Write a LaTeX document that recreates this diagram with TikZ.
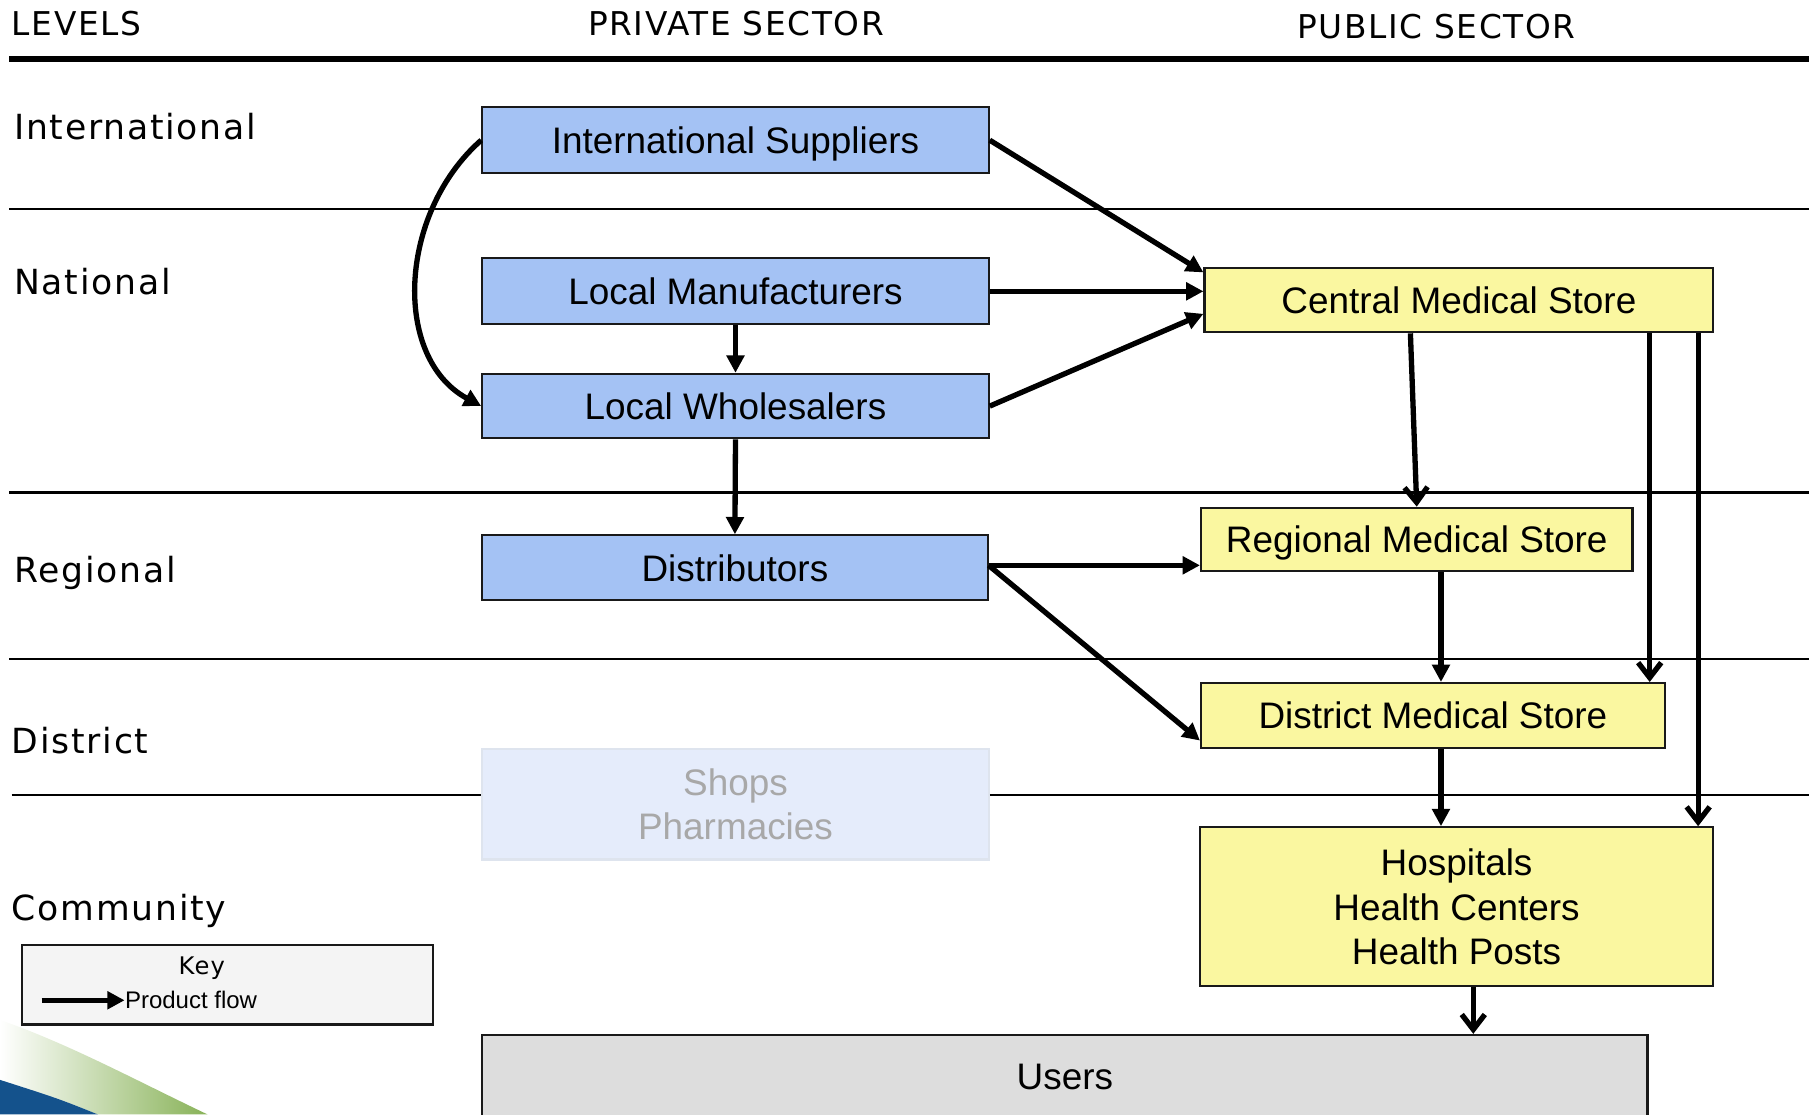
\documentclass[tikz,border=0pt]{standalone}
\usepackage{fontspec}
\setmainfont{Liberation Sans}
\newfontfamily\lvlfont[LetterSpace=5]{DejaVu Sans}
\usetikzlibrary{arrows.meta}
\definecolor{privblue}{RGB}{164,194,244}
\definecolor{pubyellow}{RGB}{250,247,160}
\definecolor{usergray}{RGB}{221,221,221}
\definecolor{shopfill}{RGB}{229,236,251}
\definecolor{shopline}{RGB}{222,228,238}
\definecolor{shoptext}{RGB}{168,168,168}
\definecolor{keyfill}{RGB}{244,244,244}
\definecolor{boxline}{RGB}{25,25,25}
\definecolor{swooshblue}{RGB}{20,82,140}
\definecolor{swooshgreen}{RGB}{136,178,88}

\begin{document}
\begin{tikzpicture}[x=0.5pt,y=-0.5pt,
    box/.style={draw=boxline,line width=0.9pt,inner sep=0pt,align=center,text depth=0pt,font=\fontsize{16}{19.4}\selectfont},
    priv/.style={box,fill=privblue,minimum width=219.5pt,minimum height=28.5pt},
    pub/.style={box,fill=pubyellow,minimum height=28pt},
    lvl/.style={anchor=west,inner sep=0pt,font=\lvlfont\fontsize{15}{18}\selectfont},
    hdr/.style={inner sep=0pt,font=\lvlfont\fontsize{14.2}{18}\selectfont},
    band/.style={line width=1pt},
    flow/.style={line width=2.3pt,-{Triangle[length=7.5pt,width=7.5pt]}},
    vflow/.style={line width=2.3pt,-{Straight Barb[length=6.5pt,width=10pt]}}]
      \useasboundingbox (0,0) rectangle (1568,966);
      \clip (0,0) rectangle (1568,966);
      \shade[left color=white,right color=swooshgreen] (0,884) .. controls (60,905) and (115,935) .. (180,966) -- (85,966) .. controls (50,952) .. (0,936) -- cycle;
      \fill[swooshblue] (0,936) .. controls (50,952) .. (85,966) -- (0,966) -- cycle;
      \node[hdr,anchor=west] (levels) at (10,20) {LEVELS};
      \node[hdr] (private) at (638,20) {PRIVATE SECTOR};
      \node[hdr] (public) at (1245,23) {PUBLIC SECTOR};
      \draw[line width=2.5pt] (8,51) -- (1568,51);
      \draw[band] (8,181) -- (1568,181);
      \draw[band] (8,427) -- (1568,427);
      \draw[band] (8,571) -- (1568,571);
      \node[lvl] (international) at (12,110) {International};
      \node[lvl] (national) at (12,244) {National};
      \node[lvl] (regional) at (12,497) {Regional};
      \node[lvl] (district) at (10,642) {District};
      \node[lvl] (community) at (10,790) {Community};
      \node[priv] (intsup) at (637.5,121.5) {International Suppliers};
      \node[priv] (locman) at (637.5,252.5) {Local Manufacturers};
      \node[priv,minimum height=28pt] (locwhol) at (637.5,352) {Local Wholesalers};
      \node[priv,minimum width=219pt,minimum height=28pt] (distrib) at (637,492) {Distributors};
      \node[box,draw=shopline,fill=shopfill,text=shoptext,minimum width=219.5pt,minimum height=48pt] (shops) at (637.5,697) {Shops\\Pharmacies};
      \coordinate (dl) at (10,689);
      \coordinate (dr) at (1568,689);
      \draw[band] (dl) -- (dl -| shops.west);
      \draw[band] (dr -| shops.east) -- (dr);
      \node[pub,minimum width=220.5pt] (cms) at (1264.5,260) {Central Medical Store};
      \node[pub,minimum width=187pt,minimum height=27.5pt] (rms) at (1228,467.5) {Regional Medical Store};
      \node[pub,minimum width=201pt] (dms) at (1242,620) {District Medical Store};
      \node[pub,minimum width=222.5pt,minimum height=69pt] (hosp) at (1262.5,786) {Hospitals\\Health Centers\\Health Posts};
      \node[box,fill=usergray,minimum width=505pt,minimum height=36pt] (users) at (923,933) {Users};
      \node[box,fill=keyfill,minimum width=178pt,minimum height=34.5pt] (key) at (197,853.5) {};
      \node[inner sep=0pt,font=\lvlfont\fontsize{10.5}{12}\selectfont] (keytitle) at (175,839) {Key};
      \node[anchor=west,inner sep=0pt,font=\fontsize{10.4}{12}\selectfont] (keyflow) at (108,867) {Product flow};
      \coordinate (k0) at (36,867);
      \draw[flow] (k0) -- (keyflow.west);
      \coordinate (d1) at ([xshift=-7pt]dms.north east);
      \coordinate (h1) at ([xshift=-7pt]hosp.north east);
      \coordinate (c1) at ([xshift=3.5pt]dms.north);
      \draw[flow] (intsup.east) -- ([yshift=-2.5pt]cms.north west);
      \draw[flow] (locman.east) -- (locman.east -| cms.west);
      \draw[flow] (locwhol.east) -- ([yshift=-6pt]cms.west);
      \draw[flow] (intsup.west) .. controls (345,185) and (340,310) .. (locwhol.west);
      \draw[flow] (locman.south) -- (locwhol.north);
      \draw[flow] (locwhol.south) -- (distrib.north);
      \draw[flow] ([yshift=1pt]distrib.east) -- ([yshift=1pt]distrib.east -| rms.west);
      \draw[flow] ([yshift=1pt]distrib.east) -- ([yshift=3.5pt]dms.south west);
      \draw[vflow] ([xshift=-21pt]cms.south) -- (rms.north);
      \draw[vflow] (cms.south -| d1) -- (d1);
      \draw[vflow] (cms.south -| h1) -- (h1);
      \draw[flow] (rms.south -| c1) -- (c1);
      \draw[flow] (dms.south -| c1) -- (hosp.north -| c1);
      \draw[vflow] ([xshift=7.25pt]hosp.south) -- ([xshift=7.25pt]hosp.south |- users.north);
\end{tikzpicture}
\end{document}
